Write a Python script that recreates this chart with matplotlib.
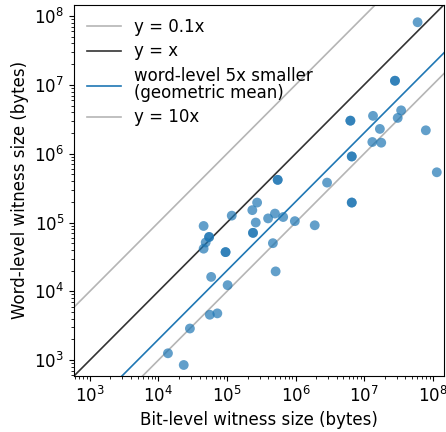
import numpy as np
import matplotlib
matplotlib.use("Agg")
import matplotlib.pyplot as plt

# log10 of witness sizes (bytes)
bit_log = np.array([7.78, 7.45, 7.45, 6.80, 6.80, 7.13, 7.23, 7.54, 7.49, 7.12, 7.25, 7.90,
                    6.82, 6.82, 8.06, 6.46, 6.82, 6.82, 5.74, 5.74,
                    5.44, 5.37, 5.07, 5.70, 5.60, 5.82, 5.42, 5.99, 6.28, 4.66,
                    5.38, 5.38, 4.74, 4.74, 4.69, 4.66, 4.98, 4.98, 5.67, 5.71,
                    4.77, 5.01, 4.75, 4.86, 4.46, 4.14, 4.37])
word_log = np.array([7.91, 7.06, 7.06, 6.48, 6.48, 6.55, 6.36, 6.63, 6.52, 6.17, 6.16, 6.34,
                     5.96, 5.96, 5.73, 5.58, 5.29, 5.29, 5.62, 5.62,
                     5.29, 5.18, 5.10, 5.13, 5.06, 5.08, 5.00, 5.02, 4.96, 4.95,
                     4.85, 4.85, 4.79, 4.79, 4.71, 4.62, 4.57, 4.57, 4.70, 4.29,
                     4.21, 4.09, 3.66, 3.68, 3.46, 3.10, 2.93])
bit = 10 ** bit_log
word = 10 ** word_log

lo, hi = 10 ** 2.77, 10 ** 8.165
xs = np.array([lo, hi])

fig = plt.figure(figsize=(4.46, 4.32), dpi=100)
ax = fig.add_subplot(111)
fig.subplots_adjust(left=74/446, right=444/446, bottom=56/432, top=1-4.7/432)

ax.plot(xs, 10 * xs, color='#b5b5b5', lw=1.2, label='y = 0.1x')
ax.plot(xs, xs, color='#333333', lw=1.2, label='y = x')
ax.plot(xs, xs / 5, color='#1f77b4', lw=1.2, label='word-level 5x smaller\n(geometric mean)')
ax.plot(xs, 0.1 * xs, color='#b5b5b5', lw=1.2, label='y = 10x')
ax.scatter(bit, word, s=50, color='#1f77b4', alpha=0.7, edgecolors='none', zorder=3)

ax.set_xscale('log')
ax.set_yscale('log')
ax.set_xlim(lo, hi)
ax.set_ylim(lo, hi)
ax.set_xlabel('Bit-level witness size (bytes)', fontsize=12)
ax.set_ylabel('Word-level witness size (bytes)', fontsize=12)
ax.tick_params(labelsize=12)
leg = ax.legend(loc='upper left', frameon=False, fontsize=12, labelspacing=0.38,
                borderaxespad=0.4)
for t in leg.get_texts():
    t.set_linespacing(0.95)

fig.savefig('out.png', dpi=100)
